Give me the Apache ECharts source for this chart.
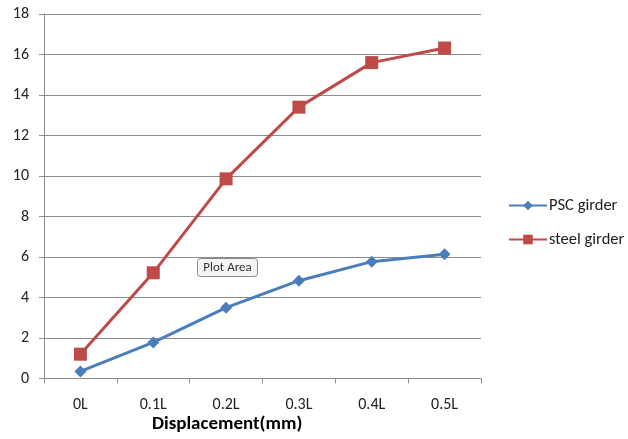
<!DOCTYPE html>
<html>
<head>
<meta charset="utf-8">
<script src="https://cdn.jsdelivr.net/npm/echarts@6/dist/echarts.min.js"></script>
<style>
  html, body { margin: 0; padding: 0; background: #fff; }
  #chart { width: 628px; height: 439px; }
</style>
</head>
<body>
<div id="chart"></div>
<script>
// Girder displacement along the span
const categories = ['0L', '0.1L', '0.2L', '0.3L', '0.4L', '0.5L'];
const pscGirder = [0.35, 1.78, 3.5, 4.83, 5.77, 6.13];
const steelGirder = [1.2, 5.22, 9.86, 13.4, 15.6, 16.32];
const yTicks = { min: 0, max: 18, interval: 2 };

const fontFamily = 'Carlito, Lato, "Open Sans", "Noto Sans", sans-serif';

const chart = echarts.init(document.getElementById('chart'), null, { renderer: 'canvas' });

chart.setOption({
  animation: false,
  backgroundColor: '#ffffff',
  grid: { left: 44, right: 147, top: 14, bottom: 60.5, containLabel: false },
  legend: {
    orient: 'vertical',
    left: 503,
    top: 192,
    itemWidth: 38,
    itemHeight: 12,
    itemGap: 17,
    textStyle: { fontFamily, fontSize: 16.5, color: '#222', padding: [0, 0, 0, -3] },
    data: ['PSC girder', 'steel girder']
  },
  xAxis: {
    type: 'category',
    data: categories,
    boundaryGap: true,
    axisLine: { lineStyle: { color: '#8c8c8c', width: 1 } },
    axisTick: { show: true, length: 5, alignWithLabel: false, lineStyle: { color: '#8c8c8c' } },
    axisLabel: { fontFamily, fontSize: 16, color: '#222', margin: 18 },
    splitLine: { show: false }
  },
  yAxis: {
    type: 'value',
    min: yTicks.min,
    max: yTicks.max,
    interval: yTicks.interval,
    axisLine: { show: true, lineStyle: { color: '#8c8c8c', width: 1 } },
    axisTick: { show: true, length: 5, lineStyle: { color: '#8c8c8c' } },
    axisLabel: { fontFamily, fontSize: 16, color: '#222', margin: 15 },
    splitLine: { show: true, lineStyle: { color: '#8c8c8c', width: 1 } }
  },
  series: [
    {
      name: 'PSC girder',
      type: 'line',
      data: pscGirder,
      symbol: 'diamond',
      symbolSize: 12,
      itemStyle: { color: '#4a7ebb' },
      lineStyle: { color: '#4a7ebb', width: 3 }
    },
    {
      name: 'steel girder',
      type: 'line',
      data: steelGirder,
      symbol: 'rect',
      symbolSize: 13,
      itemStyle: { color: '#be4b48' },
      lineStyle: { color: '#be4b48', width: 3 }
    }
  ],
  graphic: [
    {
      type: 'text',
      left: 152,
      top: 415,
      style: {
        text: 'Displacement(mm)',
        fontFamily,
        fontSize: 19,
        fontWeight: 'bold',
        fill: '#000'
      }
    },
    {
      type: 'group',
      left: 197,
      top: 258,
      children: [
        {
          type: 'rect',
          shape: { x: 0, y: 0, width: 60, height: 18, r: 3 },
          style: { fill: '#f4f4f4', stroke: '#8a8a8a', lineWidth: 1 }
        },
        {
          type: 'text',
          x: 30,
          y: 9.5,
          style: {
            text: 'Plot Area',
            fontFamily,
            fontSize: 13,
            fill: '#333',
            align: 'center',
            verticalAlign: 'middle'
          }
        }
      ]
    }
  ]
});
</script>
</body>
</html>
